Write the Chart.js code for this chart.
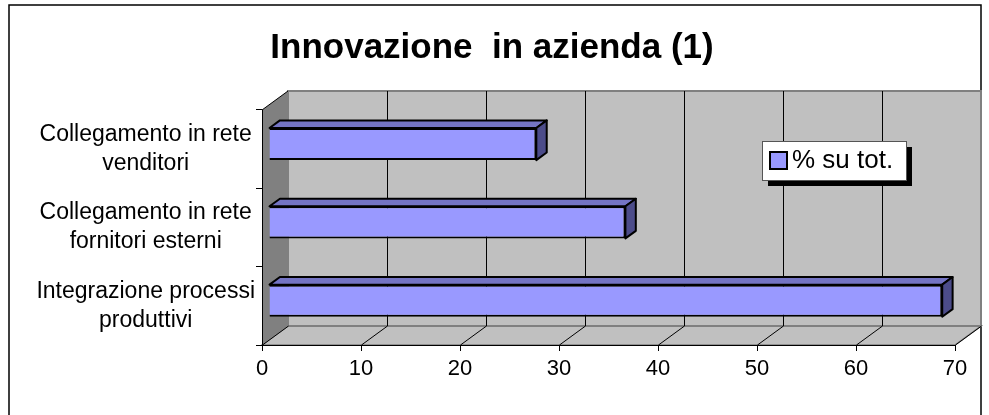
<!DOCTYPE html>
<html><head><meta charset="utf-8">
<script src="https://cdn.jsdelivr.net/npm/chart.js@4/dist/chart.umd.min.js"></script>
<style>html,body{margin:0;padding:0;background:#fff;} #wrap{width:989px;height:415px;position:relative;}</style>
</head><body><div id="wrap"><canvas id="c" width="989" height="415"></canvas></div>
<script>
// ---- data ----
const categories = [
  ['Collegamento in rete', 'venditori'],
  ['Collegamento in rete', 'fornitori esterni'],
  ['Integrazione processi', 'produttivi']
];
const seriesLabel = '% su tot.';
const values = [27, 36, 68];
const xTicks = [0, 10, 20, 30, 40, 50, 60, 70];
const titleText = 'Innovazione  in azienda (1)';

// ---- styling / geometry ----
const FONT = "'Liberation Sans', Arial, sans-serif";
const DEPTH = {x: 26, y: -19};
const BAR_FRONT = 0.27, BAR_BACK = 0.67;
const BAR_COLOR = '#9999FF', BAR_TOP = '#7474C4', BAR_SIDE = '#4C4C8A';

const threeD = {
  id: 'threeD',
  beforeDraw(chart) {
    const ctx = chart.ctx;
    const xs = chart.scales.x, ys = chart.scales.y;
    const L = xs.getPixelForValue(xTicks[0]);
    const R = xs.getPixelForValue(xTicks[xTicks.length - 1]);
    const T = ys.top, B = ys.bottom;
    const dx = DEPTH.x, dy = DEPTH.y;
    ctx.save();
    ctx.fillStyle = '#fff';
    ctx.fillRect(0, 0, chart.width, chart.height);
    // outer frame
    ctx.strokeStyle = '#000'; ctx.lineWidth = 1.5;
    ctx.strokeRect(9, 5, 972, 420);
    // back wall
    ctx.fillStyle = '#C0C0C0';
    ctx.fillRect(L + dx, T + dy, R - L, B - T);
    // left wall
    ctx.fillStyle = '#808080';
    ctx.beginPath();
    ctx.moveTo(L, T); ctx.lineTo(L + dx, T + dy); ctx.lineTo(L + dx, B + dy); ctx.lineTo(L, B); ctx.closePath();
    ctx.fill();
    // floor
    ctx.fillStyle = '#C0C0C0';
    ctx.beginPath();
    ctx.moveTo(L, B); ctx.lineTo(R, B); ctx.lineTo(R + dx, B + dy); ctx.lineTo(L + dx, B + dy); ctx.closePath();
    ctx.fill();
    ctx.strokeStyle = '#808080'; ctx.lineWidth = 1.5;
    ctx.stroke();
    // back wall border
    ctx.strokeStyle = '#808080'; ctx.lineWidth = 2;
    ctx.strokeRect(L + dx, T + dy, R - L, B - T);
    // gridlines
    ctx.strokeStyle = '#000'; ctx.lineWidth = 1;
    xTicks.forEach((v, i) => {
      const x = Math.round(xs.getPixelForValue(v)) + 0.5;
      ctx.beginPath();
      ctx.moveTo(x, B); ctx.lineTo(x + dx, B + dy);
      if (i > 0 && i < xTicks.length - 1) ctx.lineTo(x + dx, T + dy);
      ctx.stroke();
    });
    // left wall top edge
    ctx.beginPath();
    ctx.moveTo(L, T); ctx.lineTo(L + dx, T + dy);
    ctx.strokeStyle = '#000'; ctx.lineWidth = 1;
    ctx.stroke();
    ctx.restore();
  },
  beforeDatasetsDraw(chart) {
    chart.ctx.save();
    chart.ctx.translate(DEPTH.x * BAR_FRONT, DEPTH.y * BAR_FRONT);
  },
  afterDatasetsDraw(chart) {
    const ctx = chart.ctx;
    ctx.restore();
    const fx = DEPTH.x * BAR_FRONT, fy = DEPTH.y * BAR_FRONT;
    const ddx = DEPTH.x * (BAR_BACK - BAR_FRONT), ddy = DEPTH.y * (BAR_BACK - BAR_FRONT);
    const meta = chart.getDatasetMeta(0);
    ctx.save();
    ctx.lineWidth = 2; ctx.strokeStyle = '#000'; ctx.lineJoin = 'round';
    meta.data.forEach(el => {
      const p = el.getProps(['x', 'y', 'base', 'height'], true);
      const x0 = p.base + fx, x1 = p.x + fx;
      const y0 = p.y - p.height / 2 + fy, y1 = p.y + p.height / 2 + fy;
      ctx.beginPath();
      ctx.moveTo(x0, y0); ctx.lineTo(x1, y0); ctx.lineTo(x1 + ddx, y0 + ddy); ctx.lineTo(x0 + ddx, y0 + ddy); ctx.closePath();
      ctx.fillStyle = BAR_TOP; ctx.fill(); ctx.stroke();
      ctx.beginPath();
      ctx.moveTo(x1, y0); ctx.lineTo(x1 + ddx, y0 + ddy); ctx.lineTo(x1 + ddx, y1 + ddy); ctx.lineTo(x1, y1); ctx.closePath();
      ctx.fillStyle = BAR_SIDE; ctx.fill(); ctx.stroke();
    });
    ctx.restore();
  },
  afterDraw(chart) {
    const ctx = chart.ctx;
    const ds = chart.data.datasets[0];
    ctx.save();
    // title
    ctx.fillStyle = '#000';
    ctx.font = 'bold 35px ' + FONT;
    ctx.textAlign = 'center';
    ctx.textBaseline = 'middle';
    ctx.fillText(titleText, 492, 48);
    // legend
    const bx = 762, by = 141, bw = 144, bh = 39;
    ctx.fillStyle = '#000';
    ctx.fillRect(bx + 6, by + 6, bw, bh);
    ctx.fillStyle = '#fff';
    ctx.fillRect(bx, by, bw, bh);
    ctx.strokeStyle = '#555'; ctx.lineWidth = 1;
    ctx.strokeRect(bx + 0.5, by + 0.5, bw, bh);
    ctx.fillStyle = ds.backgroundColor;
    ctx.fillRect(770, 152, 17, 17);
    ctx.strokeStyle = '#000'; ctx.lineWidth = 2;
    ctx.strokeRect(770, 152, 17, 17);
    ctx.fillStyle = '#000';
    ctx.font = '26px ' + FONT;
    ctx.textBaseline = 'middle';
    ctx.textAlign = 'left';
    ctx.fillText(ds.label, 792, 161);
    ctx.restore();
  }
};

new Chart(document.getElementById('c'), {
  type: 'bar',
  data: {
    labels: categories,
    datasets: [{
      label: seriesLabel,
      data: values,
      backgroundColor: BAR_COLOR,
      borderColor: '#000',
      borderWidth: 2,
      categoryPercentage: 1,
      barPercentage: 0.41
    }]
  },
  options: {
    indexAxis: 'y',
    responsive: false,
    animation: false,
    events: [],
    layout: {padding: {left: 9, right: 34, top: 110, bottom: 0}},
    plugins: {
      legend: {display: false},
      tooltip: {enabled: false},
      title: {display: false}
    },
    scales: {
      x: {
        type: 'linear',
        min: 0, max: 70,
        afterBuildTicks: s => { s.ticks = xTicks.map(v => ({value: v})); },
        afterFit: s => { s.height = 70; },
        ticks: {color: '#000', font: {family: FONT, size: 22}, padding: 5, maxRotation: 0},
        grid: {drawOnChartArea: false, drawTicks: true, tickLength: 6, color: '#000'},
        border: {color: '#000', width: 1}
      },
      y: {
        type: 'category',
        afterFit: s => { s.width = 253; },
        ticks: {color: '#000', font: {family: FONT, size: 23, lineHeight: 1.25}, crossAlign: 'center', padding: 1},
        grid: {drawOnChartArea: false, drawTicks: true, tickLength: 6, color: '#000', offset: true},
        border: {color: '#000', width: 1}
      }
    }
  },
  plugins: [threeD]
});
</script>
</body></html>
